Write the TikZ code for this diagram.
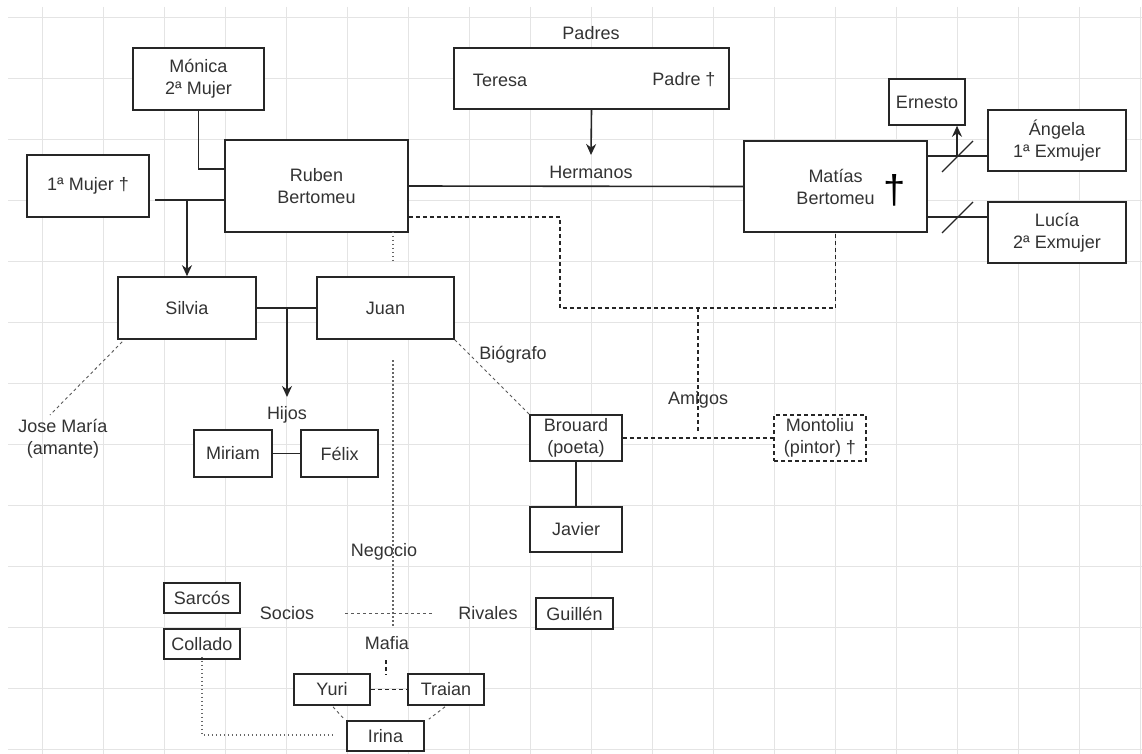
\documentclass[tikz,border=0pt]{standalone}
\usepackage{fontspec}
\setmainfont{Liberation Sans}
\usetikzlibrary{arrows.meta,calc}
\definecolor{txt}{HTML}{333333}
\definecolor{gridc}{HTML}{E4E4E4}
\begin{document}
\begin{tikzpicture}[x=1pt,y=-1pt,
  every node/.style={text=txt, font=\fontsize{18}{22}\selectfont, align=center},
  box/.style={draw=black!85, line width=1.6pt, fill=white, inner sep=0pt},
  lbl/.style={inner sep=1pt},
  con/.style={line width=1.6pt, draw=black!85},
  arr/.style={con, -{Stealth[length=11pt,width=10pt]}},
  dsh/.style={line width=1.5pt, draw=black!85, dash pattern=on 4pt off 3pt},
  fine/.style={line width=0.9pt, draw=black!65, dash pattern=on 3pt off 3pt},
  dot/.style={line width=1.1pt, draw=black!60, dash pattern=on 1.5pt off 2.5pt},
]
\useasboundingbox (0,0) rectangle (1142,754);
\fill[white] (0,0) rectangle (1142,754);
% grid
\foreach \x in {42,103,...,1140} \draw[gridc, line width=0.8pt] (\x,7) -- (\x,754);
\foreach \y in {17,78,...,750} \draw[gridc, line width=0.8pt] (8,\y) -- (1142,\y);

% coordinates for free ends
\coordinate (m1) at (187,200);
\coordinate (hermtop) at (591,155);
\coordinate (s1) at (957,156);
\coordinate (s2) at (957,217);
\coordinate (hj) at (287,308);
\coordinate (hijtop) at (287,397);
\coordinate (jm) at (50,415);
\coordinate (rv1) at (393,263);
\coordinate (rv2) at (393,360);
\coordinate (rv3) at (393,628);
\coordinate (so1) at (345,613);
\coordinate (so2) at (433,613);
\coordinate (mf1) at (386,660);
\coordinate (mf2) at (386,675);
\coordinate (fr1) at (560,217);
\coordinate (fr2) at (560,308);
\coordinate (am1) at (698,308);
\coordinate (am2) at (698,431);
\coordinate (col) at (333,735);

% boxes
\node[box, minimum width=131pt, minimum height=62pt] (monica) at (198.5,79) {Mónica\\2ª Mujer};
\node[box, minimum width=122pt, minimum height=62pt] (mujer1) at (88,186) {1ª Mujer †};
\node[box, minimum width=183pt, minimum height=92pt] (ruben) at (316.5,186) {Ruben\\Bertomeu};
\node[box, minimum width=275pt, minimum height=61pt] (padres) at (591.5,78.5) {};
\node[lbl] (teresa) at (500,80) {Teresa};
\node[lbl] (padre) at (684,80) {Padre †};
\node[lbl] (padreslbl) at (591,33) {Padres};
\node[lbl] (hermanos) at (591,172) {Hermanos};
\node[box, minimum width=183pt, minimum height=91pt] (matias) at (835.5,186.5) {Matías\\Bertomeu};
\node[inner sep=0pt, text=black, font=\fontsize{40}{40}\selectfont] (cruz) at (895,190) {†};
\node[box, minimum width=76pt, minimum height=46pt] (ernesto) at (927,102) {Ernesto};
\node[box, minimum width=138pt, minimum height=61pt] (angela) at (1057,140.5) {Ángela\\1ª Exmujer};
\node[box, minimum width=138pt, minimum height=61pt] (lucia) at (1057,232.5) {Lucía\\2ª Exmujer};
\node[box, minimum width=138pt, minimum height=62pt] (silvia) at (187,308) {Silvia};
\node[lbl] (hijos) at (287,415) {Hijos};
\node[box, minimum width=78pt, minimum height=47pt] (miriam) at (233,453.5) {Miriam};
\node[box, minimum width=77pt, minimum height=47pt] (felix) at (339.5,453.5) {Félix};
\node[lbl] (josemaria) at (63,439) {Jose María\\(amante)};
\node[lbl] (biografo) at (513,355) {Biógrafo};
\node[lbl] (amigos) at (698,400) {Amigos};
\node[box, minimum width=92pt, minimum height=46pt] (brouard) at (576,438) {Brouard\\(poeta)};
\node[box, minimum width=92pt, minimum height=45pt] (javier) at (576,529.5) {Javier};
\node[box, dash pattern=on 4pt off 3pt, minimum width=92pt, minimum height=46pt] (montoliu) at (820,438) {Montoliu\\(pintor) †};
\node[lbl] (negocio) at (384,552) {Negocio};
\node[lbl] (socios) at (287,613) {Socios};
\node[lbl] (rivales) at (488,613) {Rivales};
\node[lbl] (mafia) at (387,643) {Mafia};
\node[box, minimum width=76pt, minimum height=30pt] (sarcos) at (202,598) {Sarcós};
\node[box, minimum width=76pt, minimum height=30pt] (collado) at (202,644) {Collado};
\node[box, minimum width=77pt, minimum height=31pt] (guillen) at (574.5,613.5) {Guillén};
\node[box, minimum width=76pt, minimum height=31pt] (yuri) at (332,689.5) {Yuri};
\node[box, minimum width=76pt, minimum height=31pt] (traian) at (446,689.5) {Traian};
\node[box, minimum width=77pt, minimum height=30pt] (irina) at (385.5,736) {Irina};

% connectors (behind Juan)
\draw[dot] ([yshift=1pt]ruben.south -| rv1) -- (rv1);
\draw[dot] (rv2) -- (rv3);
\node[box, minimum width=137pt, minimum height=62pt] (juan) at (385.5,308) {Juan};

% connectors
\draw[con] (monica.south) |- (ruben.west |- 0,169);
\draw[con] ([xshift=5pt]mujer1.east |- m1) -- (ruben.west |- m1);
\draw[arr] (m1) -- (silvia.north);
\draw[arr] (padres.south) -- (hermtop);
\draw[con] (ruben.east) -- (matias.west);
\draw[con] (matias.east |- s1) -- (angela.west |- s1);
\draw[con] (matias.east |- s2) -- (lucia.west |- s2);
\draw[con, line width=1.1pt] ($(s1)+(-15,16)$) -- ($(s1)+(16,-15)$);
\draw[con, line width=1.1pt] ($(s2)+(-15,16)$) -- ($(s2)+(16,-15)$);
\draw[arr] (s1) -- (s1 |- ernesto.south);
\draw[con] (silvia.east) -- (juan.west);
\draw[arr] (hj) -- (hijtop);
\draw[con] (miriam.east) -- (felix.west);
\draw[fine] ([shift={(5,2)}]silvia.south west) -- (jm);
\draw[fine] (so1) -- (so2);
\draw[dsh, line width=1.3pt] (mf1) -- (mf2);
\draw[dsh, line width=1.3pt] (yuri.east) -- (traian.west);
\draw[fine] ([shift={(1,1)}]yuri.south) -- ([shift={(-2,-1)}]irina.north west);
\draw[fine] ([shift={(-1,1)}]traian.south) -- ([shift={(4,-1)}]irina.north east);
\draw[dot] ([yshift=3pt]collado.south) |- (col);
\draw[dsh] (ruben.east |- fr1) -- (fr1) -- (fr2) -| (matias.south);
\draw[dsh] (am1) -- (am2);
\draw[dsh] (brouard.east) -- (montoliu.west);
\draw[con] (brouard.south) -- (javier.north);
\draw[fine] (juan.south east) -- (brouard.north west);
\end{tikzpicture}
\end{document}
